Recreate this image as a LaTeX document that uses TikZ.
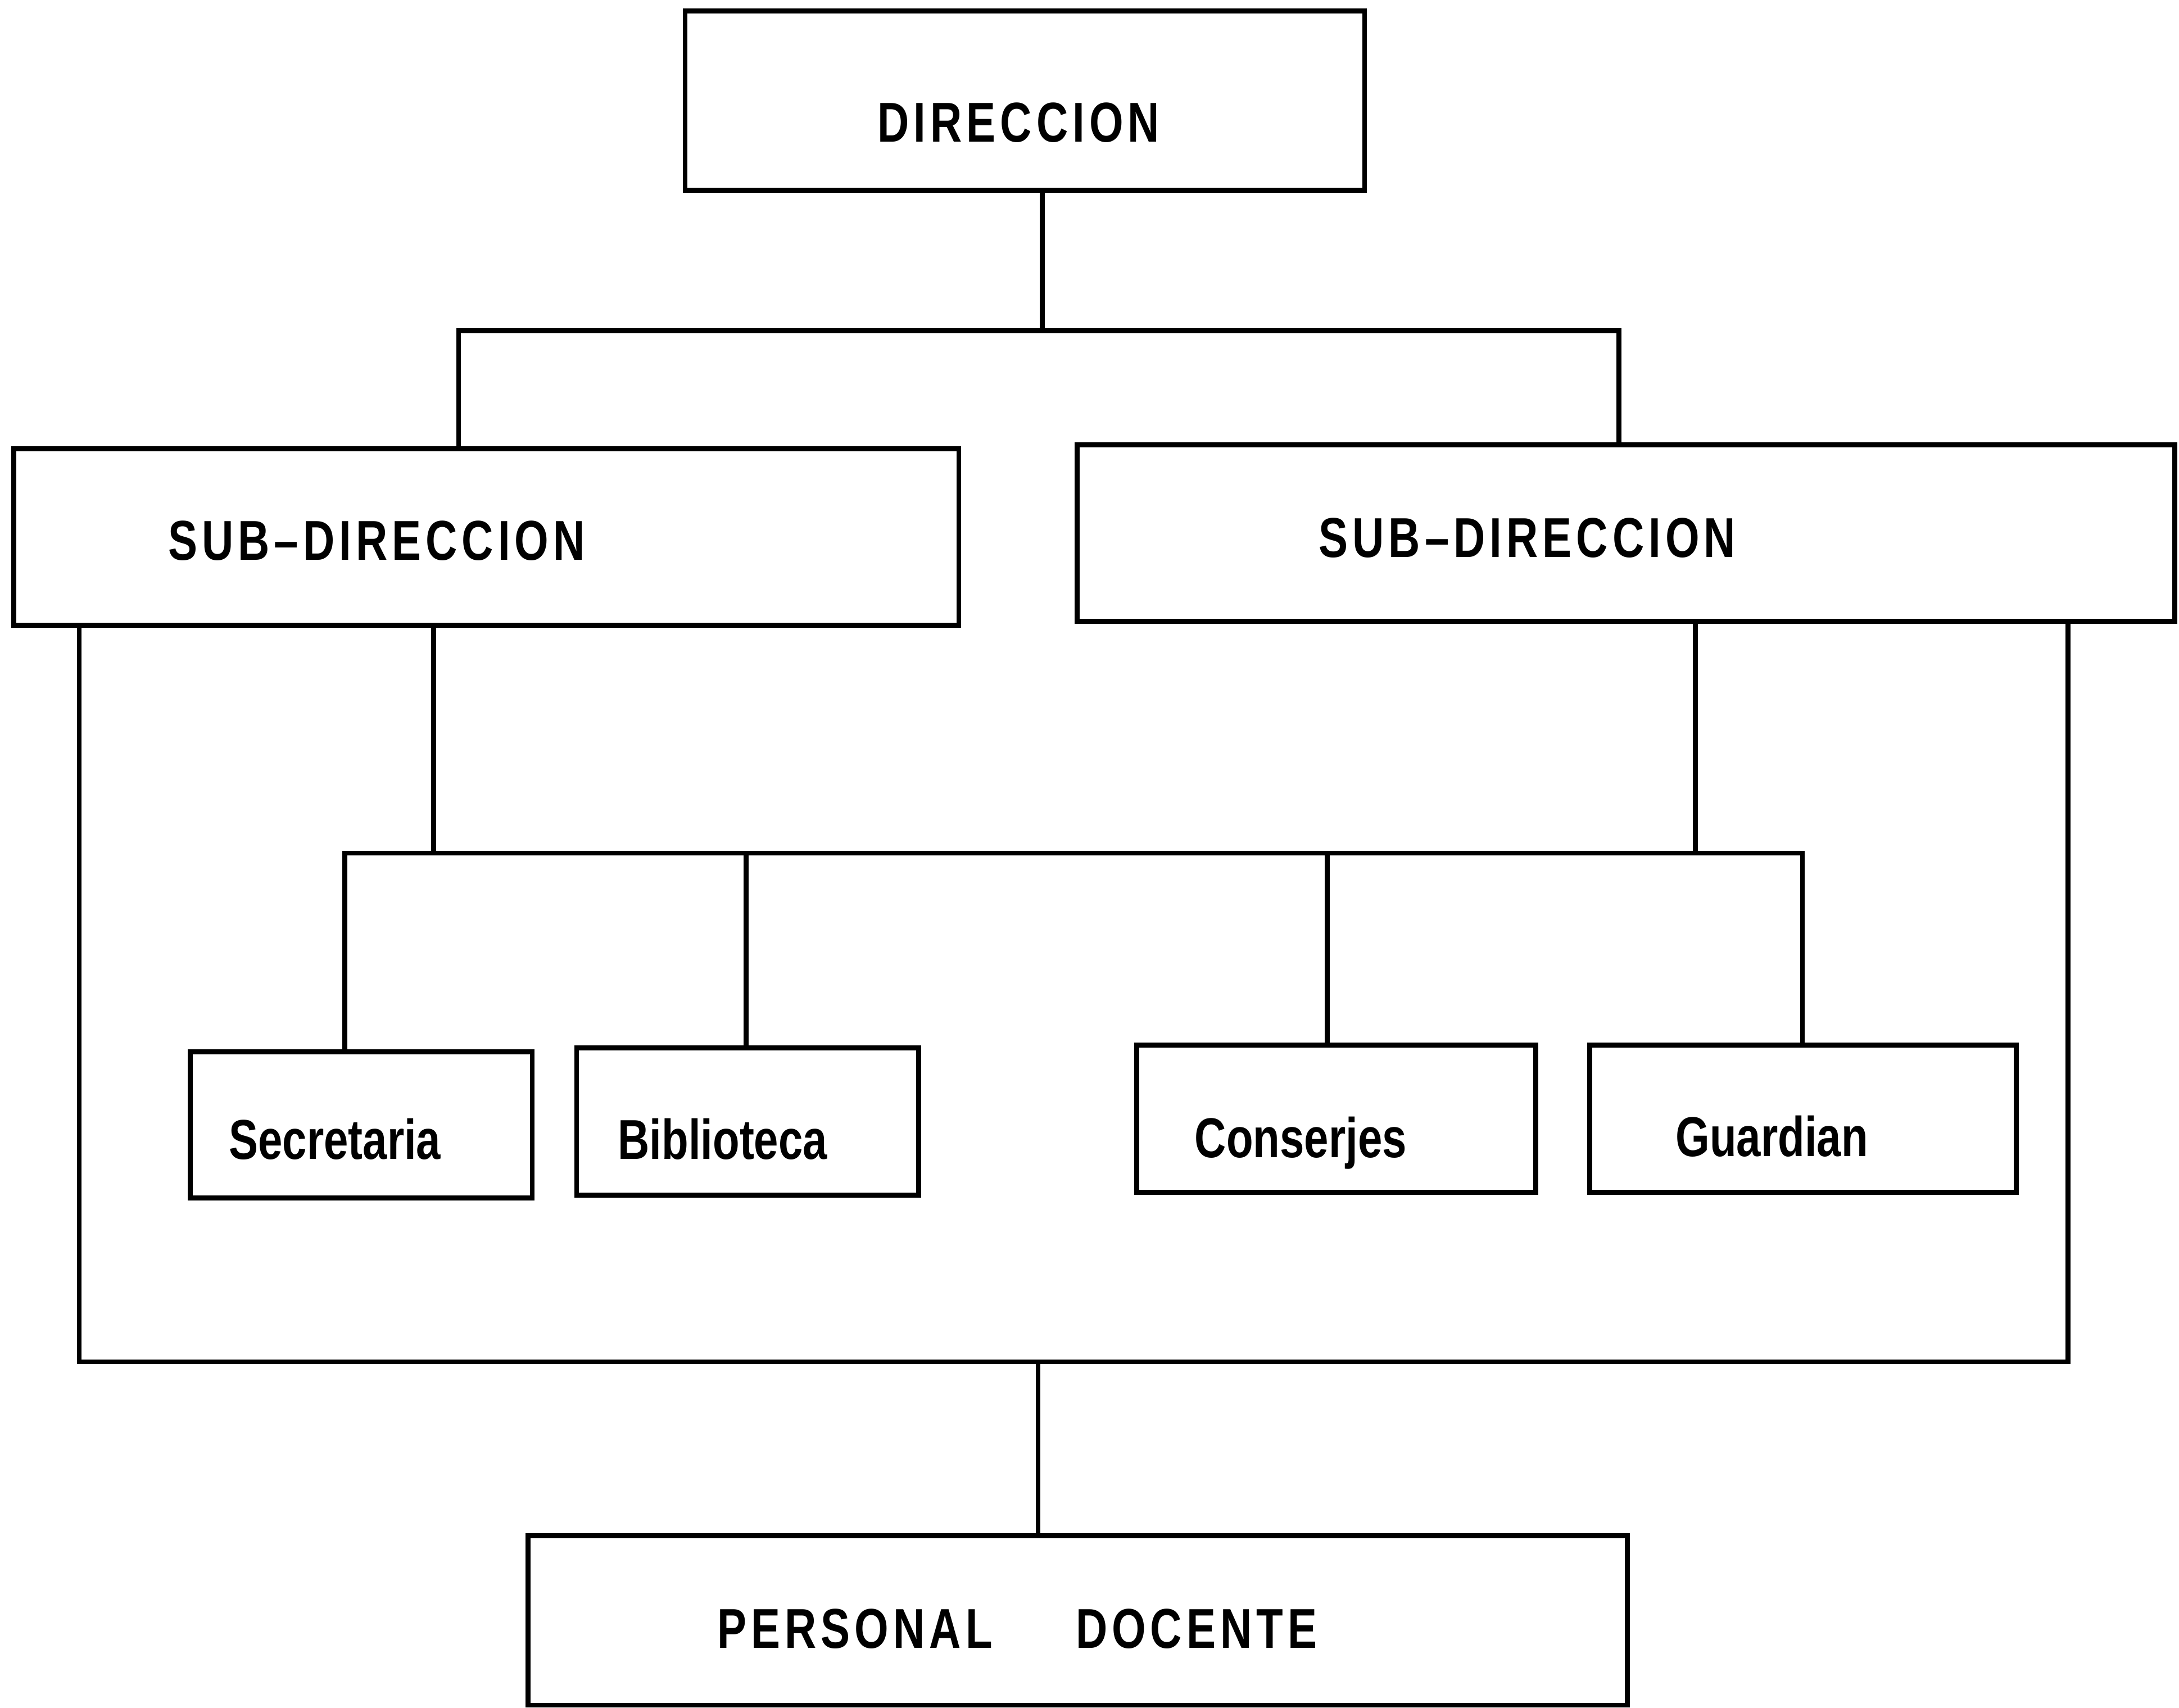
\documentclass[tikz,border=0pt]{standalone}
\usepackage{fontspec}
\setmainfont{Liberation Sans}[FakeStretch=0.78]
\newfontfamily\capsfont{Liberation Sans}[FakeStretch=0.78,LetterSpace=8]
\usepackage{tikz}
\usetikzlibrary{calc}
\definecolor{ink}{HTML}{000000}
\tikzset{
  box/.style={draw=ink, line width=1pt, rectangle, inner sep=0pt},
  link/.style={draw=ink, line width=1pt, line cap=rect},
  lab/.style={text=ink, anchor=base, inner sep=0pt, font=\fontsize{11.5}{14}\selectfont\bfseries},
  labc/.style={lab, font=\fontsize{11.5}{14}\selectfont\capsfont\bfseries},
}

\begin{document}
\begin{tikzpicture}[x=0.1mm,y=-0.1mm]
  \useasboundingbox (0,0) rectangle (1568,1229);

  \node[box,minimum width=4.89cm,minimum height=1.29cm] (dir) at (737.5,72.5) {};
  \node[box,minimum width=6.80cm,minimum height=1.27cm] (subL) at (350,386.5) {};
  \node[box,minimum width=7.90cm,minimum height=1.27cm] (subR) at (1170,383.5) {};
  \node[box,minimum width=2.46cm,minimum height=1.05cm] (sec) at (260,809.5) {};
  \node[box,minimum width=2.46cm,minimum height=1.06cm] (bib) at (538,807) {};
  \node[box,minimum width=2.87cm,minimum height=1.06cm] (con) at (961.5,805) {};
  \node[box,minimum width=3.07cm,minimum height=1.06cm] (gua) at (1297.5,805) {};
  \node[box,minimum width=7.91cm,minimum height=1.22cm] (doc) at (775.5,1166) {};

  \node[labc] (dirT) at (733,102) {DIRECCION};
  \node[labc] (subLT) at (271,403) {SUB–DIRECCION};
  \node[labc] (subRT) at (1099,401) {SUB–DIRECCION};
  \node[lab] (secT) at (241,834) {Secretaria};
  \node[lab] (bibT) at (520,834) {Biblioteca};
  \node[lab] (conT) at (936,833) {Conserjes};
  \node[lab] (guaT) at (1275,832) {Guardian};
  \node[labc] (docT) at (732,1186) {PERSONAL\hspace*{0.6cm}DOCENTE};

  \coordinate (jA) at (750,238);
  \coordinate (jL) at (330,238);
  \coordinate (jR) at (1165,238);
  \draw[link] (dir.south -| jA) -- (jA);
  \draw[link] (jL) -- (jR);
  \draw[link] (jL) -- (jL |- subL.north);
  \draw[link] (jR) -- (jR |- subR.north);

  \coordinate (mL) at (312,614);
  \coordinate (mR) at (1220,614);
  \coordinate (m1) at (248,614);
  \coordinate (m2) at (537,614);
  \coordinate (m3) at (955,614);
  \coordinate (m4) at (1297,614);
  \draw[link] (subL.south -| mL) -- (mL);
  \draw[link] (subR.south -| mR) -- (mR);
  \draw[link] (m1) -- (m4);
  \draw[link] (m1) -- (m1 |- sec.north);
  \draw[link] (m2) -- (m2 |- bib.north);
  \draw[link] (m3) -- (m3 |- con.north);
  \draw[link] (m4) -- (m4 |- gua.north);

  \coordinate (bL) at (57,980);
  \coordinate (bR) at (1488,980);
  \coordinate (bD) at (747,980);
  \draw[link] (subL.south -| bL) -- (bL) -- (bR) -- (subR.south -| bR);
  \draw[link] (bD) -- (bD |- doc.north);
\end{tikzpicture}
\end{document}
